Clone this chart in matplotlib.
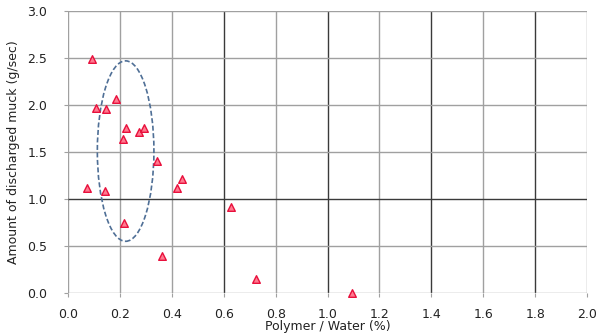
import matplotlib.pyplot as plt
import numpy as np
from matplotlib.patches import Ellipse

# polymer / water ratio (%) and discharged muck (g/sec)
polymer = [0.093, 0.109, 0.145, 0.183, 0.225, 0.210, 0.274, 0.293, 0.341,
           0.072, 0.144, 0.419, 0.441, 0.214, 0.361, 0.629, 0.724, 1.093]
muck = [2.49, 1.97, 1.96, 2.06, 1.76, 1.64, 1.71, 1.76, 1.40,
        1.12, 1.09, 1.12, 1.21, 0.75, 0.39, 0.91, 0.15, 0.00]

xticks = np.arange(0, 2.01, 0.2)
yticks = np.arange(0, 3.01, 0.5)
dark_x = [0.6, 1.0, 1.4, 1.8]
dark_y = [1.0]

fig = plt.figure(figsize=(6.04, 3.35), dpi=100)
ax = fig.add_axes([0.1126, 0.1254, 0.8594, 0.8416])

for x in xticks:
    c = '#3a3a3a' if any(abs(x - d) < 1e-6 for d in dark_x) else '#a0a0a0'
    ax.axvline(x, color=c, linewidth=1.0, zorder=1)
for y in yticks:
    c = '#3a3a3a' if any(abs(y - d) < 1e-6 for d in dark_y) else '#a0a0a0'
    ax.axhline(y, color=c, linewidth=1.0, zorder=1)

ax.scatter(polymer, muck, marker='^', s=30, facecolor='#ff7a90',
           edgecolor='#e8103c', linewidth=1.0, zorder=3, clip_on=False)

ell = Ellipse((0.222, 1.51), 0.218, 1.92, fill=False, edgecolor='#4f6f96',
              linestyle=(0, (3, 1.5)), linewidth=1.2, zorder=2)
ax.add_patch(ell)

ax.set_xlim(0, 2.0)
ax.set_ylim(0, 3.0)
ax.set_xticks(xticks)
ax.set_yticks(yticks)
ax.set_xticklabels([f'{v:.1f}' for v in xticks])
ax.set_yticklabels([f'{v:.1f}' for v in yticks])
ax.tick_params(direction='out', length=3, color='#a0a0a0', labelsize=9,
               labelcolor='#222222')
ax.tick_params(axis='x', pad=8)
ax.tick_params(axis='y', pad=12)
for s in ax.spines.values():
    s.set_visible(False)

ax.set_xlabel('Polymer / Water (%)', fontsize=9, color='#222222', labelpad=-1)
ax.set_ylabel('Amount of discharged muck (g/sec)', fontsize=9, color='#222222',
              labelpad=5)

fig.savefig('out.png', dpi=100)
